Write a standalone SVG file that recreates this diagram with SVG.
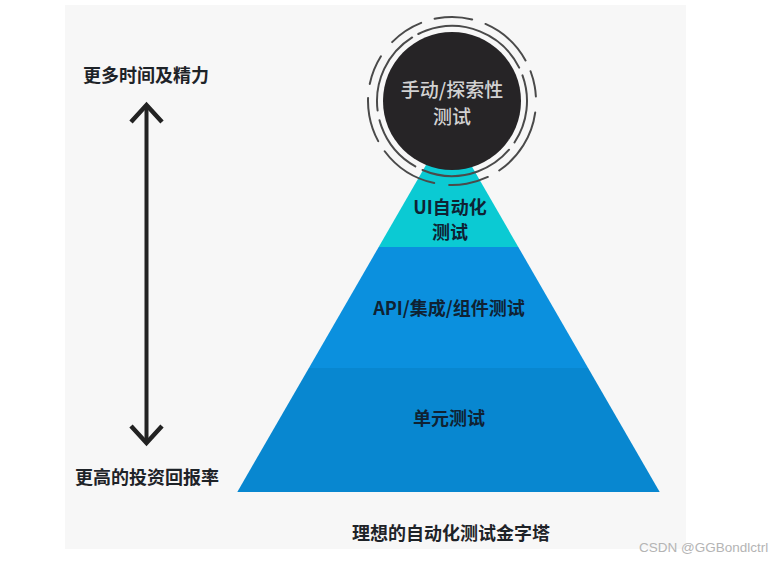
<svg xmlns="http://www.w3.org/2000/svg" width="775" height="561" viewBox="0 0 775 561">
  <style>
    .lbl { font-family: "Noto Sans CJK SC", "Noto Sans", sans-serif; font-size: 18px; font-weight: 700; fill: #1e2328; }
    .pyr { font-family: "Noto Sans CJK SC", "Noto Sans", sans-serif; font-size: 18px; font-weight: 700; fill: #0f2233; text-anchor: middle; }
    .ring { fill: none; stroke: #4a4a4a; stroke-width: 2; stroke-linecap: round; }
  </style>
  <rect x="0" y="0" width="775" height="561" fill="#ffffff"/>
  <rect x="65" y="5" width="621" height="544" fill="#f7f7f7"/>

  <g id="pyramid">
    <g id="layer-unit">
      <polygon points="308.9,368 588.1,368 659.7,492 237.3,492" fill="#0887d0"/>
      <text class="pyr" x="449" y="424.5">单元测试</text>
    </g>
    <g id="layer-api">
      <polygon points="378.7,247 518.3,247 588.1,368 308.9,368" fill="#0b90de"/>
      <text class="pyr" x="449" y="314.5">API/集成/组件测试</text>
    </g>
    <g id="layer-ui">
      <polygon points="448.5,126 518.3,247 378.7,247" fill="#0bcad3"/>
      <text class="pyr" x="450" y="214" font-size="16.5">UI自动化</text>
      <text class="pyr" x="450" y="238.5" font-size="16.5">测试</text>
    </g>
  </g>

  <g id="manual">
    <circle cx="452" cy="101" r="69" fill="#262426"/>
    <circle class="ring" cx="452" cy="101" r="75" stroke-dasharray="70 9 95 8 60 10 85 7 118 12" transform="rotate(-20 452 101)"/>
    <circle class="ring" cx="452" cy="101" r="84" stroke-dasharray="35 14 55 12 26 16 70 13 40 15 60 12 45 14 30 18" transform="rotate(-100 452 101)"/>
    <text x="452" y="96.5" text-anchor="middle" font-family="Noto Sans CJK SC, Noto Sans, sans-serif" font-size="19" font-weight="500" fill="#d2d2d2">手动/探索性</text>
    <text x="452" y="123.5" text-anchor="middle" font-family="Noto Sans CJK SC, Noto Sans, sans-serif" font-size="19" font-weight="500" fill="#d2d2d2">测试</text>
  </g>

  <g id="connectors">
    <line x1="146.5" y1="106" x2="146.5" y2="442" stroke="#222" stroke-width="4"/>
    <polyline points="131,122 146.5,105 162,122" fill="none" stroke="#222" stroke-width="4.5" stroke-linejoin="miter"/>
    <polyline points="131,426 146.5,443 162,426" fill="none" stroke="#222" stroke-width="4.5" stroke-linejoin="miter"/>
  </g>

  <g id="label-top"><text class="lbl" x="83" y="81.5">更多时间及精力</text></g>
  <g id="label-bottom"><text class="lbl" x="75" y="483.5">更高的投资回报率</text></g>
  <g id="caption"><text class="lbl" x="352" y="539.5">理想的自动化测试金字塔</text></g>
  <text x="639" y="552" font-family="Liberation Sans, sans-serif" font-size="13.5" fill="#b4b4b4">CSDN @GGBondlctrl</text>
</svg>
